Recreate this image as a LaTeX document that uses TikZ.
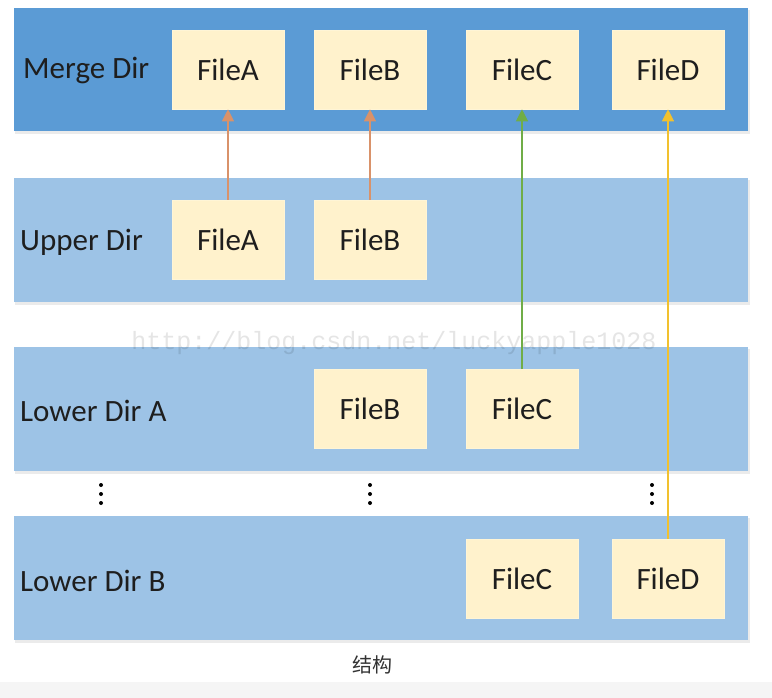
\documentclass[tikz,border=0pt]{standalone}
\usepackage{fontspec}
\setmainfont{Carlito}
\newfontfamily\cjkfont{Noto Sans CJK SC}
\newfontfamily\wmfont{Liberation Mono}
\usetikzlibrary{arrows.meta}
\definecolor{mergeband}{HTML}{5B9BD5}
\definecolor{lightband}{HTML}{9DC3E6}
\definecolor{filecol}{HTML}{FFF2CC}
\definecolor{arrorange}{HTML}{D9926A}
\definecolor{arrgreen}{HTML}{70AD47}
\definecolor{arryellow}{HTML}{F2C12E}
\definecolor{txt}{HTML}{1E1E1E}
\tikzset{
  filebox/.style={fill=filecol, draw=filecol!80!white, line width=0.6pt, minimum width=112pt, minimum height=79pt, inner sep=0pt, text=txt, font=\fontsize{31}{31}\selectfont},
  dirlabel/.style={anchor=west, inner sep=0pt, text=txt, font=\fontsize{31}{31}\selectfont},
  band/.style={fill=lightband},
  shadowband/.style={fill=black, opacity=0.08},
  link/.style={line width=1.2pt, -{Triangle[width=12pt,length=12pt]}},
  vdot/.style={fill=black}
}
\begin{document}
\begin{tikzpicture}[x=1pt,y=-1pt]
\useasboundingbox (0,0) rectangle (772,698);
\fill[white] (0,0) rectangle (772,698);
\fill[black!4] (0,682) rectangle (772,698);
% shadows
\fill[shadowband] (15,10) rectangle (750,134);
\fill[shadowband] (15,180) rectangle (750,305);
\fill[shadowband] (15,349) rectangle (750,474);
\fill[shadowband] (15,518) rectangle (750,643);
% bands
\fill[mergeband] (14,8) rectangle (748,131);
\fill[band] (14,178) rectangle (748,302);
\fill[band] (14,347) rectangle (748,471);
\fill[band] (14,516) rectangle (748,640);
% labels
\node[dirlabel] (lmerge) at (23,71) {Merge Dir};
\node[dirlabel] (lupper) at (20,242) {Upper Dir};
\node[dirlabel] (llowa) at (20,411) {Lower Dir A};
\node[dirlabel] (llowb) at (20,581) {Lower Dir B};
% merge row
\node[filebox] (mA) at (228,69.5) {FileA};
\node[filebox] (mB) at (370,69.5) {FileB};
\node[filebox] (mC) at (522,69.5) {FileC};
\node[filebox] (mD) at (668,69.5) {FileD};
% upper row
\node[filebox] (uA) at (228,239.5) {FileA};
\node[filebox] (uB) at (370,239.5) {FileB};
% lower A
\node[filebox] (aB) at (370,409) {FileB};
\node[filebox] (aC) at (522,409) {FileC};
% lower B
\node[filebox] (bC) at (522,579) {FileC};
\node[filebox] (bD) at (668,579) {FileD};
% watermark
\node[inner sep=0pt, text=black, opacity=0.1, font=\wmfont\fontsize{25}{25}\selectfont] (wm) at (394,343) {http://blog.csdn.net/luckyapple1028};
% arrows
\draw[link, arrorange] (uA.north) -- (mA.south);
\draw[link, arrorange] (uB.north) -- (mB.south);
\draw[link, arrgreen] (aC.north) -- (mC.south);
\draw[link, arryellow] (bD.north) -- (mD.south);
% vertical dots
\foreach \x in {101,370,652}{
  \foreach \y in {485,494,503}{
    \fill[vdot] (\x,\y) circle (2pt);
  }
}
% caption
\node[inner sep=0pt, text=black!80, font=\cjkfont\fontsize{20}{20}\selectfont] (cap) at (372,665) {结构};
\end{tikzpicture}
\end{document}
